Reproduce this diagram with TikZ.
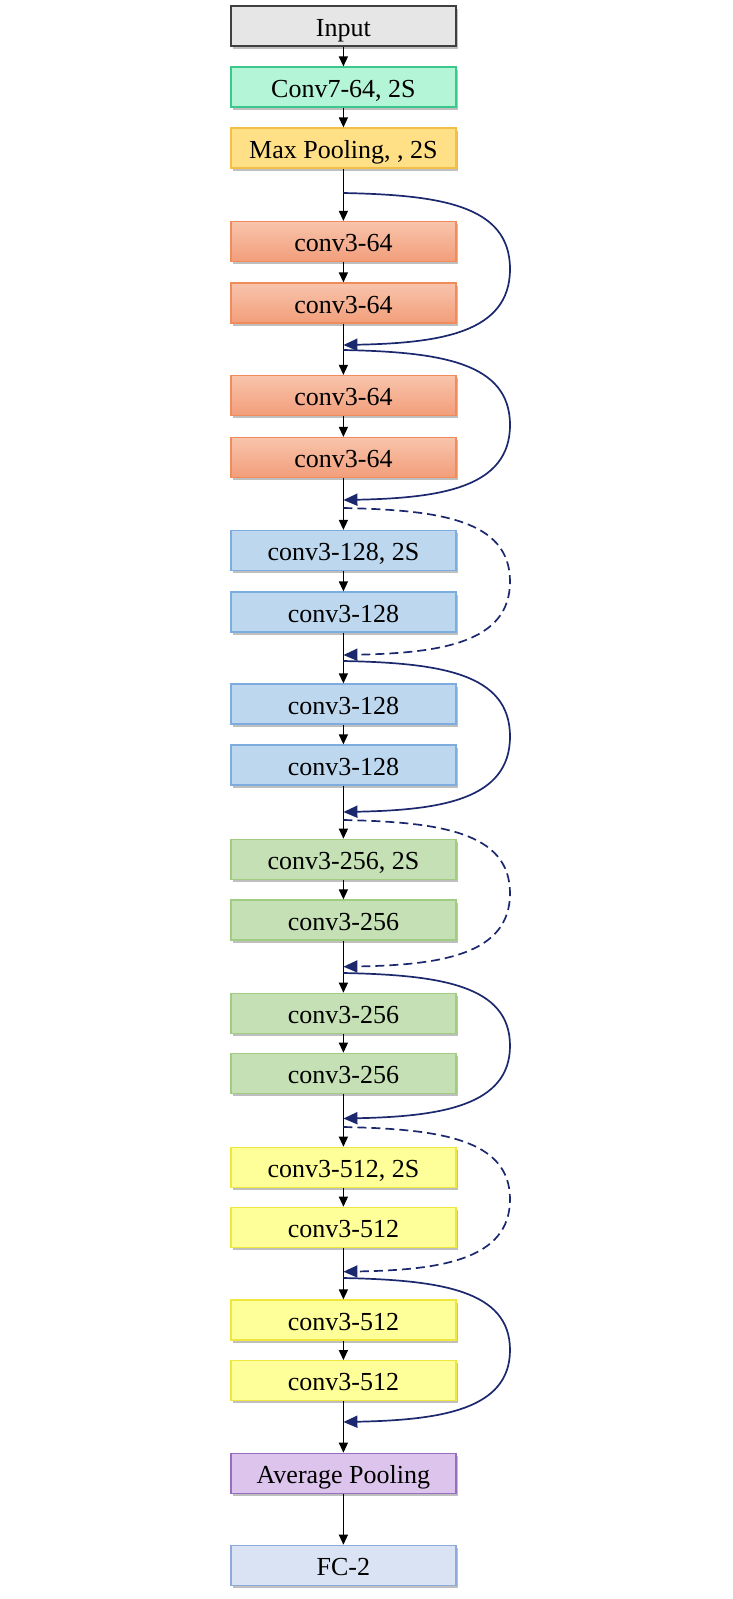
\documentclass[tikz,border=0pt]{standalone}
\usepackage{fontspec}
\setmainfont{Liberation Serif}
\usetikzlibrary{arrows.meta,shadows}
\definecolor{ingray}{RGB}{231,230,230}
\definecolor{inborder}{RGB}{64,64,64}
\definecolor{mintfill}{RGB}{179,245,214}
\definecolor{mintborder}{RGB}{60,200,140}
\definecolor{goldfill}{RGB}{255,224,135}
\definecolor{goldborder}{RGB}{245,190,70}
\definecolor{salmontop}{RGB}{248,196,172}
\definecolor{salmonbot}{RGB}{242,158,122}
\definecolor{salmonborder}{RGB}{240,140,90}
\definecolor{bluefill}{RGB}{189,215,238}
\definecolor{blueborder}{RGB}{125,172,222}
\definecolor{greenfill}{RGB}{197,224,180}
\definecolor{greenborder}{RGB}{160,205,130}
\definecolor{yellowfill}{RGB}{255,255,153}
\definecolor{yellowborder}{RGB}{240,230,60}
\definecolor{purplefill}{RGB}{220,196,236}
\definecolor{purpleborder}{RGB}{150,110,190}
\definecolor{fcfill}{RGB}{218,227,243}
\definecolor{fcborder}{RGB}{140,170,220}
\definecolor{skipblue}{RGB}{28,40,110}
\tikzset{
  layer/.style={rectangle, minimum width=225pt, minimum height=40pt, inner sep=0pt,
    text height=22pt, text depth=2pt,
    line width=1.2pt, font=\fontsize{26}{30}\selectfont,
    drop shadow={shadow xshift=2pt, shadow yshift=-2.5pt, fill=black, opacity=0.25}},
  inbox/.style={layer, fill=ingray, draw=inborder},
  mintbox/.style={layer, fill=mintfill, draw=mintborder},
  goldbox/.style={layer, fill=goldfill, draw=goldborder},
  salmonbox/.style={layer, top color=salmontop, bottom color=salmonbot, draw=salmonborder},
  bluebox/.style={layer, fill=bluefill, draw=blueborder},
  greenbox/.style={layer, fill=greenfill, draw=greenborder},
  yellowbox/.style={layer, fill=yellowfill, draw=yellowborder},
  purplebox/.style={layer, fill=purplefill, draw=purpleborder},
  fcbox/.style={layer, fill=fcfill, draw=fcborder},
  flow/.style={line width=1.3pt, black, -{Triangle[length=10pt,width=9pt]}},
  skip/.style={line width=1.7pt, skipblue, -{Triangle[length=14pt,width=12pt]}},
  skipdash/.style={skip, dash pattern=on 9pt off 5pt},
}
\begin{document}
\begin{tikzpicture}[x=1pt,y=-1pt]
\useasboundingbox (0,0) rectangle (733,1599);
\def\cx{343.4}
% layers
\node[inbox] (in) at (\cx,26) {Input};
\node[mintbox] (c7) at (\cx,87) {Conv7-64, 2S};
\node[goldbox] (mp) at (\cx,148) {Max Pooling, , 2S};
\node[salmonbox] (a1) at (\cx,241.5) {conv3-64};
\node[salmonbox] (a2) at (\cx,303) {conv3-64};
\node[salmonbox] (a3) at (\cx,395.5) {conv3-64};
\node[salmonbox] (a4) at (\cx,457.5) {conv3-64};
\node[bluebox] (b1) at (\cx,550.5) {conv3-128, 2S};
\node[bluebox] (b2) at (\cx,612) {conv3-128};
\node[bluebox] (b3) at (\cx,704) {conv3-128};
\node[bluebox] (b4) at (\cx,765) {conv3-128};
\node[greenbox] (g1) at (\cx,859.3) {conv3-256, 2S};
\node[greenbox] (g2) at (\cx,920) {conv3-256};
\node[greenbox] (g3) at (\cx,1013.3) {conv3-256};
\node[greenbox] (g4) at (\cx,1073.3) {conv3-256};
\node[yellowbox] (y1) at (\cx,1167.3) {conv3-512, 2S};
\node[yellowbox] (y2) at (\cx,1227.3) {conv3-512};
\node[yellowbox] (y3) at (\cx,1320) {conv3-512};
\node[yellowbox] (y4) at (\cx,1380.7) {conv3-512};
\node[purplebox] (ap) at (\cx,1473.3) {Average Pooling};
\node[fcbox] (fc) at (\cx,1565.3) {FC-2};
% main flow
\foreach \u/\v in {in/c7,c7/mp,mp/a1,a1/a2,a2/a3,a3/a4,a4/b1,b1/b2,b2/b3,b3/b4,b4/g1,g1/g2,g2/g3,g3/g4,g4/y1,y1/y2,y2/y3,y3/y4,y4/ap,ap/fc}
  \draw[flow] (\u.south) -- (\v.north);
% skip connection end points
\coordinate (s1) at (\cx,193);   \coordinate (e1) at (\cx,345);
\coordinate (s2) at (\cx,350);   \coordinate (e2) at (\cx,500);
\coordinate (s3) at (\cx,508);   \coordinate (e3) at (\cx,655);
\coordinate (s4) at (\cx,661);   \coordinate (e4) at (\cx,812);
\coordinate (s5) at (\cx,820);   \coordinate (e5) at (\cx,966.7);
\coordinate (s6) at (\cx,973);   \coordinate (e6) at (\cx,1118.5);
\coordinate (s7) at (\cx,1127);  \coordinate (e7) at (\cx,1271.7);
\coordinate (s8) at (\cx,1278);  \coordinate (e8) at (\cx,1422);
% skip connections
\draw[skip] (s1) .. controls (440,195) and (510,205) .. (510,269) .. controls (510,333) and (440,343) .. (e1);
\draw[skip] (s2) .. controls (440,352) and (510,362) .. (510,425) .. controls (510,488) and (440,498) .. (e2);
\draw[skipdash] (s3) .. controls (440,510) and (510,520) .. (510,581.5) .. controls (510,643) and (440,653) .. (e3);
\draw[skip] (s4) .. controls (440,663) and (510,673) .. (510,736.5) .. controls (510,800) and (440,810) .. (e4);
\draw[skipdash] (s5) .. controls (440,822) and (510,832) .. (510,893.3) .. controls (510,955) and (440,965) .. (e5);
\draw[skip] (s6) .. controls (440,975) and (510,985) .. (510,1045.8) .. controls (510,1106) and (440,1116.5) .. (e6);
\draw[skipdash] (s7) .. controls (440,1129) and (510,1139) .. (510,1199.3) .. controls (510,1260) and (440,1270) .. (e7);
\draw[skip] (s8) .. controls (440,1280) and (510,1290) .. (510,1350) .. controls (510,1410) and (440,1420) .. (e8);
\end{tikzpicture}
\end{document}
